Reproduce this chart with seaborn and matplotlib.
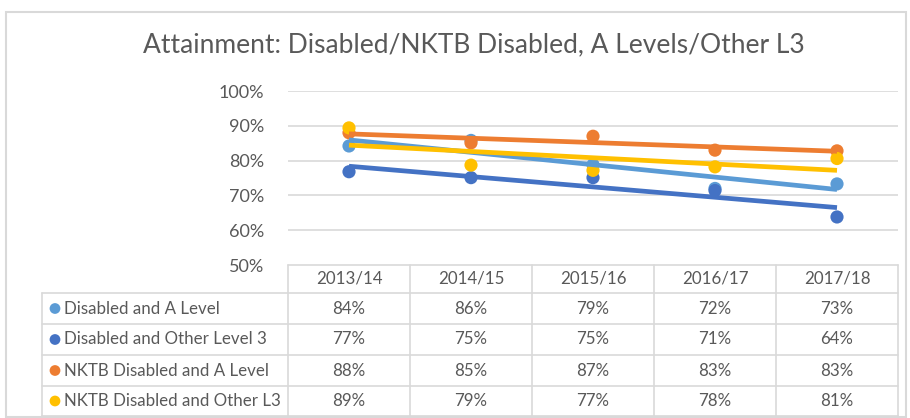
import matplotlib
matplotlib.use("Agg")
import matplotlib.pyplot as plt
import seaborn as sns
import pandas as pd
import numpy as np

years = ["2013/14", "2014/15", "2015/16", "2016/17", "2017/18"]
series_names = ["Disabled and A Level", "Disabled and Other Level 3",
                "NKTB Disabled and A Level", "NKTB Disabled and Other L3"]
disabled_a = [84.2, 85.8, 78.8, 72.0, 73.3]
disabled_other = [76.8, 75.1, 75.1, 71.4, 63.8]
nktb_a = [88.0, 85.1, 87.0, 83.0, 82.8]
nktb_other = [89.4, 78.7, 77.2, 78.2, 80.6]
yticks = [50, 60, 70, 80, 90, 100]
colors = ["#5B9BD5", "#4472C4", "#ED7D31", "#FFC000"]

all_vals = [disabled_a, disabled_other, nktb_a, nktb_other]
df = pd.DataFrame({
    "x": np.tile(np.arange(len(years)), len(series_names)),
    "value": np.concatenate(all_vals),
    "series": np.repeat(series_names, len(years)),
})

sns.set_style("white")
plt.rcParams["font.family"] = ["Lato", "DejaVu Sans"]
txt = "#595959"
grid = "#D9D9D9"

W, H = 910, 418
fig = plt.figure(figsize=(W / 100, H / 100), dpi=100)

def fx(px):
    return px / W

def fy(py):
    return 1 - py / H

# outer border
fig.add_artist(plt.Rectangle((fx(6), fy(417)), fx(906) - fx(6), fy(12) - fy(417),
                             transform=fig.transFigure, fill=False, ec=grid, lw=1.5))

# title
fig.text(fx(474), fy(45), "Attainment: Disabled/NKTB Disabled, A Levels/Other L3",
         ha="center", va="center", fontsize=19, color=txt)

L, R, T, B = 288, 898, 91, 265
ax = fig.add_axes([fx(L), fy(B), fx(R) - fx(L), fy(T) - fy(B)])
for i, (name, col) in enumerate(zip(series_names, colors)):
    sub = df[df["series"] == name]
    sns.scatterplot(data=sub, x="x", y="value", color=col, s=90, edgecolor="none",
                    ax=ax, zorder=2, legend=False)
for i, (name, col) in enumerate(zip(series_names, colors)):
    sub = df[df["series"] == name]
    sns.regplot(data=sub, x="x", y="value", scatter=False, ci=None, truncate=True,
                line_kws={"color": col, "lw": 3.4, "zorder": 3, "solid_capstyle": "butt"},
                ax=ax)

ax.set_xlim(-0.5, len(years) - 0.5)
ax.set_ylim(50, 100)
ax.set_yticks(yticks)
ax.set_yticklabels([f"{v}%" for v in yticks], color=txt, fontsize=13)
ax.tick_params(axis="y", length=0, pad=17)
ax.set_xticks([])
ax.set_xlabel("")
ax.set_ylabel("")
for v in yticks[1:]:
    ax.axhline(v, color=grid, lw=1.2, zorder=0)
for s in ax.spines.values():
    s.set_visible(False)

# data table
tax = fig.add_axes([0, 0, 1, 1])
tax.set_xlim(0, W)
tax.set_ylim(H, 0)
tax.axis("off")
tax.patch.set_alpha(0)
col_edges = np.linspace(L, R, len(years) + 1)
row_edges = [265, 293, 324, 355, 386, 416]
legend_left = 42
lc = dict(color=grid, lw=1.2)
tax.plot([L, R], [row_edges[0]] * 2, **lc)
for ry in row_edges[1:]:
    tax.plot([legend_left, R], [ry, ry], **lc)
for cx in col_edges:
    tax.plot([cx, cx], [row_edges[0], row_edges[-1]], **lc)
tax.plot([legend_left, legend_left], [row_edges[1], row_edges[-1]], **lc)

fs = 12.2
for j, yr in enumerate(years):
    cx = (col_edges[j] + col_edges[j + 1]) / 2
    tax.text(cx, (row_edges[0] + row_edges[1]) / 2, yr, ha="center", va="center",
             fontsize=fs, color=txt)
for i, (name, col, vals) in enumerate(zip(series_names, colors, all_vals)):
    cy = (row_edges[i + 1] + row_edges[i + 2]) / 2
    tax.scatter([55], [cy], s=60, color=col, edgecolor="none")
    tax.text(64, cy, name, ha="left", va="center", fontsize=fs, color=txt)
    for j, v in enumerate(vals):
        cx = (col_edges[j] + col_edges[j + 1]) / 2
        tax.text(cx, cy, f"{round(v):.0f}%", ha="center", va="center",
                 fontsize=fs, color=txt)

fig.savefig("out.png", dpi=100)
